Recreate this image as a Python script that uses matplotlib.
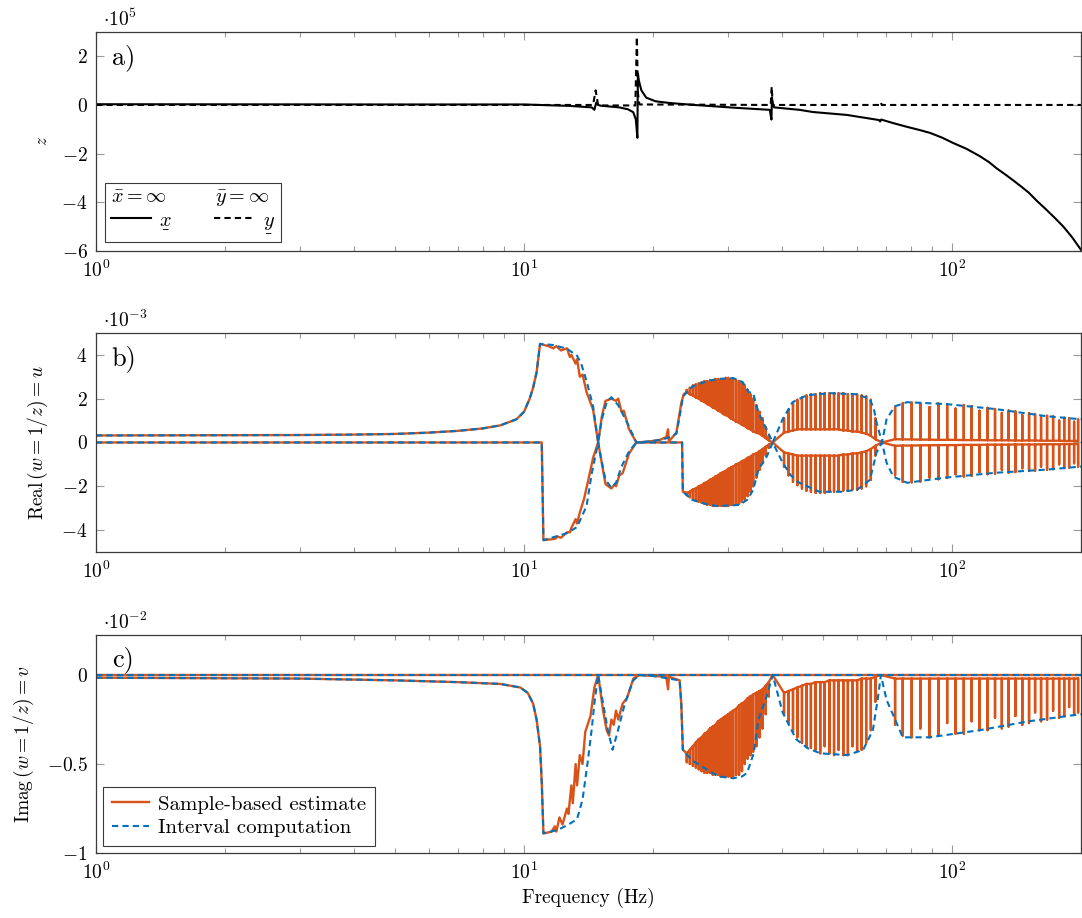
import numpy as np
import matplotlib
matplotlib.use('Agg')
import matplotlib.pyplot as plt
from matplotlib.ticker import FuncFormatter, FixedLocator, LogLocator, NullFormatter
from matplotlib.lines import Line2D

plt.rcParams['font.family'] = 'serif'
plt.rcParams['font.serif'] = ['cmr10']
plt.rcParams['mathtext.fontset'] = 'cm'
plt.rcParams['axes.formatter.use_mathtext'] = True

ORANGE = '#D95319'
BLUE = '#0072BD'

# ---------------- panel a (units of 1e5) ----------------
a_x_f = [1, 5, 10, 12.8, 14.4, 14.6, 14.75, 14.9, 15.1, 16.7, 17.5, 18.0, 18.25, 18.4, 18.45,
         18.55, 18.8, 19.3, 20.3, 21.9, 25, 31.4, 37.5, 37.85, 37.95, 38.1, 38.4, 44, 47.3,
         56.8, 67.5, 67.9, 68.3, 73, 78.5, 84, 88.9, 95, 100.5, 108, 116, 122, 127, 133, 139,
         145, 151, 158, 166, 174, 182, 191, 200]
a_x_v = [0.03, 0.02, 0.02, -0.04, -0.1, -0.2, 0.1, 0.0, -0.03, -0.1, -0.18, -0.3, -0.6, -1.35, 1.3,
         1.0, 0.6, 0.3, 0.15, 0.08, 0.0, -0.12, -0.2, -0.6, 0.3, 0.05, -0.1, -0.2, -0.29,
         -0.41, -0.62, -0.68, -0.6, -0.75, -0.9, -1.03, -1.15, -1.35, -1.56, -1.8, -2.1, -2.35,
         -2.6, -2.85, -3.1, -3.35, -3.6, -3.95, -4.3, -4.65, -5.0, -5.45, -5.95]
a_y_f = [1, 14.5, 14.7, 14.9, 18.2, 18.35, 18.45, 18.6, 37.7, 37.9, 38.1, 67.9, 68.2, 68.5, 200]
a_y_v = [0, 0, 0.6, -0.02, -0.02, 2.8, 0.5, 0.02, 0.0, 0.75, 0.0, 0.0, 0.1, 0.0, 0.0]

# ---------------- spike frequencies (shared by b and c) ----------------
fa = [24.0, 24.4, 24.8, 25.2, 25.6, 26.0, 26.4, 26.8, 27.2, 27.6, 28.0, 28.4, 28.8, 29.2, 29.6,
      30.0, 30.4, 30.8, 31.3, 31.8, 32.3, 32.8, 33.3, 33.8, 34.3, 34.9, 35.5, 36.1, 36.7, 37.3]
fb = [40.5, 41.5, 42.5, 43.5, 44.6, 45.7, 46.8, 48.0, 49.2, 50.4, 51.7, 53.0, 54.3, 55.7, 57.1,
      58.5, 60.0, 61.5, 63.0, 64.6, 66.2]
fc = [73.6, 76.7, 80.5, 84.3, 88.6, 92.9, 97.4, 101.9, 106.5, 111.1, 115.9, 121.0, 126.0, 130.7,
      135.5, 140.6, 145.9, 151.3, 156.3, 161.4, 166.7, 172.2, 177.9, 182.8, 187.7, 192.8, 197.0]

# ---------------- panel b (units of 1e-3) ----------------
# interval computation (blue)
b_blue_up_f = [1, 2, 3, 4, 5, 6, 7, 8, 8.8, 9.6, 10.0, 10.3, 10.5, 10.7, 10.9, 11.7, 12.6, 13.3,
               13.6, 14.0, 14.5, 14.9, 15.2, 15.6, 16.0, 16.6, 17.4, 18.3, 19.7, 20.8, 21.6, 22.7,
               23.3, 23.5, 24.8, 26.7, 28.5, 30.8, 32.4, 33.5, 34.3, 35.0, 36.0, 36.9, 38.1, 40.2,
               42.4, 45.8, 51.9, 60, 64.3, 65.7, 66.6, 68.6, 70.3, 73.5, 78.5, 97.4, 127, 166, 200]
b_blue_up_v = [0.32, 0.33, 0.34, 0.36, 0.39, 0.45, 0.53, 0.64, 0.78, 1.06, 1.4, 1.98, 2.5, 3.2,
               4.5, 4.45, 4.28, 3.96, 3.6, 2.8, 1.65, 0, 1.06, 1.84, 2.07, 1.7, 0.92, 0, 0.05,
               0.12, 0.2, 0.4, 1.6, 2.1, 2.57, 2.8, 2.9, 2.94, 2.76, 2.3, 2.25, 1.6, 1.0, 0.6, 0,
               1.06, 1.84, 2.16, 2.25, 2.2, 1.98, 1.5, 0.92, 0, 1.06, 1.65, 1.84, 1.75, 1.52,
               1.2, 1.06]
b_blue_lo_f = [1, 11.0, 11.1, 12.6, 13.3, 14.0, 14.4, 14.9, 15.2, 15.5, 16.0, 16.4, 16.9, 17.6,
               18.3, 23.4, 23.5, 24.7, 26.5, 28.2, 31.9, 33.3, 34.3, 35.3, 36.9, 38.1, 40.2, 42.0,
               44, 49, 55, 60, 64.3, 66.6, 68.6, 70.3, 72.9, 78.5, 97, 127, 166, 200]
b_blue_lo_v = [0, 0, -4.46, -4.14, -3.86, -2.9, -1.4, 0, -0.9, -1.7, -2.07, -1.84, -1.1, -0.4,
               0, 0, -2.25, -2.62, -2.8, -2.9, -2.85, -2.6, -2.16, -1.24, -0.64, 0, -0.92, -1.5,
               -1.84, -2.25, -2.25, -2.16, -1.7, -0.46, 0, -0.92, -1.56, -1.84, -1.6, -1.38,
               -1.24, -1.1]

# sample-based estimate (orange), smooth part up to the first spike band
b_or_up_f = [1, 2, 3, 4, 5, 6, 7, 8, 8.8, 9.6, 10.0, 10.3, 10.5, 10.7, 10.9, 11.4, 11.7, 11.9,
             12.2, 12.6, 12.8, 12.9, 13.2, 13.3, 13.5, 13.7, 14.0, 14.5, 14.9, 15.2, 15.5, 16.0,
             16.4, 16.6, 16.9, 17.1, 17.6, 18.3, 19.7, 20.8, 21.5, 21.7, 21.8, 22.7, 23.3, 23.6]
b_or_up_v = [0.32, 0.33, 0.34, 0.36, 0.39, 0.45, 0.53, 0.64, 0.78, 1.06, 1.4, 1.98, 2.5, 3.2,
             4.5, 4.4, 4.3, 4.4, 4.2, 4.3, 3.9, 4.0, 3.6, 3.8, 3.0, 3.1, 2.3, 1.5, 0, 1.2, 1.9,
             2.0, 1.9, 2.0, 1.4, 1.45, 0.6, 0, 0.05, 0.12, 0.25, 0.6, 0.05, 0.45, 1.8, 2.2]
b_or_lo_f = [1, 11.0, 11.1, 11.8, 12.0, 12.2, 12.6, 12.8, 12.9, 13.2, 13.3, 13.5, 13.8, 14.1,
             14.5, 14.9, 15.5, 16.0, 16.3, 16.4, 16.7, 17.0, 17.6, 18.3, 23.4, 23.5]
b_or_lo_v = [0, 0, -4.46, -4.4, -4.3, -4.35, -4.1, -4.1, -3.9, -3.5, -3.7, -3.2, -2.6, -1.8,
             -0.7, 0, -1.9, -2.1, -1.9, -2.0, -1.5, -1.4, -0.5, 0, 0, -2.25]
b_zero_f = [38.1, 68.6]

a_base_u = [2.3, 2.2, 2.15, 2.05, 2.0, 1.9, 1.85, 1.75, 1.7, 1.6, 1.55, 1.45, 1.4, 1.3, 1.25,
            1.2, 1.1, 1.05, 0.95, 0.9, 0.8, 0.75, 0.65, 0.6, 0.5, 0.45, 0.4, 0.3, 0.2, 0.1]
a_tip_u = [2.4, 2.5, 2.6, 2.65, 2.7, 2.75, 2.8, 2.8, 2.85, 2.85, 2.9, 2.9, 2.9, 2.9, 2.95,
           2.95, 2.9, 2.9, 2.85, 2.8, 2.75, 2.6, 2.4, 2.2, 2.0, 1.7, 1.4, 1.1, 0.7, 0.3]
a_base_l = [-2.3, -2.25, -2.15, -2.1, -2.0, -1.95, -1.85, -1.8, -1.7, -1.65, -1.55, -1.5, -1.4,
            -1.35, -1.3, -1.2, -1.15, -1.1, -1.0, -0.95, -0.85, -0.8, -0.7, -0.65, -0.55, -0.5,
            -0.4, -0.3, -0.2, -0.1]
a_tip_l = [-2.4, -2.5, -2.6, -2.65, -2.7, -2.75, -2.8, -2.85, -2.85, -2.9, -2.9, -2.9, -2.9,
           -2.9, -2.9, -2.9, -2.85, -2.85, -2.85, -2.8, -2.7, -2.6, -2.45, -2.25, -2.0, -1.6,
           -1.25, -0.95, -0.6, -0.25]
b_tip_u = [1.1, 1.5, 1.8, 1.95, 2.05, 2.15, 2.2, 2.2, 2.25, 2.25, 2.25, 2.25, 2.25, 2.25, 2.2,
           2.2, 2.2, 2.15, 2.1, 1.95, 1.1]
b_base_u = [0.45, 0.5, 0.55, 0.6, 0.6, 0.6, 0.6, 0.6, 0.6, 0.6, 0.6, 0.6, 0.6, 0.55, 0.55, 0.5,
            0.5, 0.45, 0.4, 0.3, 0.15]
b_tip_l = [-1.1, -1.5, -1.8, -1.95, -2.1, -2.2, -2.25, -2.3, -2.3, -2.3, -2.25, -2.25, -2.2,
           -2.2, -2.2, -2.15, -2.15, -2.1, -2.0, -1.7, -0.6]
b_base_l = [-0.45, -0.5, -0.55, -0.6, -0.6, -0.6, -0.6, -0.6, -0.6, -0.6, -0.6, -0.6, -0.6,
            -0.55, -0.55, -0.5, -0.5, -0.45, -0.4, -0.3, -0.15]
c_tip_u = [1.6, 1.8, 1.82, 1.8, 1.62, 1.78, 1.75, 1.55, 1.7, 1.66, 1.45, 1.58, 1.53, 1.35, 1.46,
           1.42, 1.25, 1.34, 1.3, 1.15, 1.22, 1.19, 1.0, 1.13, 1.1, 0.95, 1.05]
c_base_u = [0.15, 0.14, 0.14, 0.13, 0.13, 0.12, 0.12, 0.12, 0.11, 0.11, 0.11, 0.1, 0.1, 0.1,
            0.1, 0.09, 0.09, 0.09, 0.09, 0.08, 0.08, 0.08, 0.08, 0.07, 0.07, 0.07, 0.07]
c_tip_l = [-1.5, -1.8, -1.82, -1.78, -1.6, -1.68, -1.62, -1.45, -1.56, -1.52, -1.35, -1.45,
           -1.42, -1.25, -1.38, -1.35, -1.18, -1.3, -1.28, -1.1, -1.24, -1.22, -1.0, -1.17,
           -1.14, -0.95, -1.1]
c_base_l = [-0.15, -0.14, -0.14, -0.13, -0.13, -0.12, -0.12, -0.12, -0.11, -0.11, -0.11, -0.1,
            -0.1, -0.1, -0.1, -0.09, -0.09, -0.09, -0.09, -0.08, -0.08, -0.08, -0.08, -0.07,
            -0.07, -0.07, -0.07]

# ---------------- panel c (units of 1e-2) ----------------
c_up_f = [1, 200]
c_up_v = [0, 0]
c_blue_lo_f = [1, 3, 5, 7, 8.8, 9.8, 10.2, 10.5, 10.7, 10.9, 11.0, 11.1, 12.0, 12.7, 13.3, 13.7,
               14.1, 14.4, 14.6, 14.9, 15.3, 15.7, 16.1, 16.5, 17.2, 18.0, 18.6, 20, 23.1, 23.3,
               23.5, 24.7, 26.7, 28.5, 30.8, 32.3, 33.2, 34.4, 35.3, 36.9, 38.1, 40.2, 43.2,
               45.9, 49.2, 56.9, 62.0, 65.3, 67.0, 68.2, 70.3, 73, 76.7, 88.6, 116, 151, 200]
c_blue_lo_v = [-0.015, -0.02, -0.03, -0.04, -0.05, -0.07, -0.1, -0.16, -0.25, -0.4, -0.6, -0.89,
               -0.87, -0.84, -0.81, -0.7, -0.48, -0.3, -0.16, 0, -0.16, -0.31, -0.42, -0.33,
               -0.16, -0.03, 0, -0.005, -0.03, -0.16, -0.42, -0.48, -0.53, -0.57, -0.58, -0.57,
               -0.55, -0.44, -0.25, -0.12, 0, -0.21, -0.36, -0.41, -0.44, -0.45, -0.42, -0.31,
               -0.14, 0, -0.14, -0.23, -0.35, -0.35, -0.31, -0.26, -0.22]
c_or_lo_f = [1, 3, 5, 7, 8.8, 9.8, 10.2, 10.5, 10.7, 10.9, 11.0, 11.1, 11.6, 11.8, 11.9, 12.1,
             12.3, 12.6, 12.7, 12.9, 13.0, 13.2, 13.3, 13.5, 13.7, 13.9, 14.3, 14.6, 14.9, 15.3,
             15.6, 15.8, 16.0, 16.2, 16.4, 16.6, 17.0, 17.4, 18.0, 18.6, 21.5, 21.7, 21.8, 23.1,
             23.3, 23.5]
c_or_lo_v = [-0.015, -0.02, -0.03, -0.04, -0.05, -0.07, -0.1, -0.16, -0.25, -0.4, -0.6, -0.89,
             -0.88, -0.85, -0.88, -0.8, -0.84, -0.75, -0.78, -0.62, -0.72, -0.5, -0.62, -0.45,
             -0.5, -0.32, -0.23, -0.07, 0, -0.2, -0.31, -0.34, -0.25, -0.28, -0.2, -0.25, -0.16,
             -0.13, -0.02, 0, -0.01, -0.08, -0.01, -0.03, -0.16, -0.42]
c_zero_f = [38.1, 68.2]
ca_top = [-0.44, -0.42, -0.4, -0.38, -0.36, -0.35, -0.33, -0.32, -0.3, -0.29, -0.28, -0.26,
          -0.25, -0.24, -0.23, -0.22, -0.21, -0.2, -0.19, -0.17, -0.16, -0.15, -0.13, -0.12,
          -0.11, -0.1, -0.09, -0.08, -0.06, -0.04]
ca_bot = [-0.49, -0.5, -0.51, -0.52, -0.53, -0.54, -0.55, -0.55, -0.55, -0.56, -0.56, -0.56,
          -0.57, -0.57, -0.57, -0.57, -0.57, -0.57, -0.56, -0.56, -0.54, -0.5, -0.47, -0.45,
          -0.43, -0.4, -0.35, -0.3, -0.22, -0.12]
cb_top = [-0.1, -0.09, -0.08, -0.07, -0.06, -0.05, -0.05, -0.04, -0.04, -0.04, -0.03, -0.03,
          -0.03, -0.03, -0.03, -0.03, -0.03, -0.02, -0.02, -0.02, -0.01]
cb_bot = [-0.22, -0.27, -0.32, -0.35, -0.38, -0.4, -0.41, -0.42, -0.44, -0.4, -0.44, -0.45,
          -0.42, -0.45, -0.45, -0.4, -0.43, -0.42, -0.38, -0.31, -0.15]
cc_top = [-0.02, -0.02, -0.02, -0.02, -0.02, -0.02, -0.02, -0.02, -0.02, -0.02, -0.02, -0.02,
          -0.02, -0.02, -0.02, -0.02, -0.02, -0.02, -0.02, -0.02, -0.02, -0.02, -0.02, -0.02,
          -0.02, -0.02, -0.02]
cc_bot = [-0.28, -0.34, -0.35, -0.3, -0.35, -0.34, -0.27, -0.33, -0.33, -0.26, -0.31, -0.31,
          -0.24, -0.3, -0.29, -0.23, -0.28, -0.27, -0.21, -0.26, -0.25, -0.2, -0.24, -0.23,
          -0.18, -0.22, -0.21]


def comb(f, base, tip):
    # each resonance drawn as a vertical stroke from the base out to the tip and back
    return np.repeat(f, 3), np.column_stack([base, tip, base]).ravel()


def chain(smooth_f, smooth_v, zeros, bands):
    xs, ys = [np.asarray(smooth_f)], [np.asarray(smooth_v, dtype=float)]
    for i, (f, base, tip) in enumerate(bands):
        sx, sy = comb(f, base, tip)
        xs.append(sx)
        ys.append(sy)
        if i < len(zeros):
            xs.append(np.array([zeros[i]]))
            ys.append(np.array([0.0]))
    return np.concatenate(xs), np.concatenate(ys)


def style(ax, ylim, yticks, mult, label, letter, lab_size=14):
    ax.set_xscale('log')
    ax.set_xlim(1, 200)
    ax.set_ylim(*ylim)
    ax.xaxis.set_major_locator(FixedLocator([1, 10, 100]))
    ax.xaxis.set_major_formatter(FuncFormatter(lambda v, p: r'$10^{%d}$' % round(np.log10(v))))
    ax.xaxis.set_minor_locator(LogLocator(base=10, subs=np.arange(2, 10)))
    ax.xaxis.set_minor_formatter(NullFormatter())
    ax.yaxis.set_major_locator(FixedLocator(yticks))
    ax.yaxis.set_major_formatter(FuncFormatter(lambda v, p: r'$%g$' % v))
    ax.tick_params(which='both', direction='in', top=True, right=True, color='#9a9a9a',
                   labelsize=14, width=0.8)
    ax.tick_params(which='major', length=6, pad=6)
    ax.tick_params(which='minor', length=3.5)
    for s in ax.spines.values():
        s.set_color('#3a3a3a')
        s.set_linewidth(0.9)
    ax.text(0.007, 1.01, r'$\cdot 10^{%s}$' % mult, transform=ax.transAxes, ha='left',
            va='bottom', fontsize=14)
    ax.text(0.016, 0.885, letter, transform=ax.transAxes, ha='left', va='center', fontsize=19)
    ax.set_ylabel(label, fontsize=lab_size, labelpad=8)


fig = plt.figure(figsize=(10.82, 9.18), dpi=100)
ax1 = fig.add_axes([0.0887, 0.7266, 0.9103, 0.2386])
ax2 = fig.add_axes([0.0887, 0.3987, 0.9103, 0.2386])
ax3 = fig.add_axes([0.0887, 0.0708, 0.9103, 0.2375])

lw = 1.5
olw = 1.7
dash = (3, 2)
xlow = r'$\underset{\_}{x}$'
ylow = r'$\underset{\_}{y}$'

# ---- a)
ax1.plot(a_x_f, a_x_v, color='k', lw=lw)
ax1.plot(a_y_f, a_y_v, color='k', lw=lw, dashes=dash)
style(ax1, (-6, 3), [-6, -4, -2, 0, 2], '5', r'$z$', 'a)', lab_size=12)
h1 = [Line2D([], [], color='k', lw=lw), Line2D([], [], color='k', lw=lw, dashes=dash)]
leg1 = ax1.legend(h1, [xlow, ylow], ncol=2, loc='lower left',
                  title=r'$\bar{x} = \infty \qquad\;\;\; \bar{y} = \infty$', title_fontsize=14.5,
                  fontsize=14.5, alignment='left', frameon=True, fancybox=False, framealpha=1,
                  edgecolor='#3a3a3a', borderaxespad=0.45, handlelength=2.0, handletextpad=0.4,
                  columnspacing=2.1, borderpad=0.3, labelspacing=0.1)
leg1.get_frame().set_linewidth(0.8)

# ---- b)
xu, yu = chain(b_or_up_f, b_or_up_v, b_zero_f,
               [(fa, a_base_u, a_tip_u), (fb, b_base_u, b_tip_u), (fc, c_base_u, c_tip_u)])
xl, yl = chain(b_or_lo_f, b_or_lo_v, b_zero_f,
               [(fa, a_base_l, a_tip_l), (fb, b_base_l, b_tip_l), (fc, c_base_l, c_tip_l)])
ax2.plot(xu, yu, color=ORANGE, lw=olw)
ax2.plot(xl, yl, color=ORANGE, lw=olw)
ax2.plot(b_blue_up_f, b_blue_up_v, color=BLUE, lw=lw, dashes=dash)
ax2.plot(b_blue_lo_f, b_blue_lo_v, color=BLUE, lw=lw, dashes=dash)
style(ax2, (-5, 5), [-4, -2, 0, 2, 4], '-3', r'$\mathrm{Real}\,(w = 1/z) = u$', 'b)')

# ---- c)
xc, yc = chain(c_or_lo_f, c_or_lo_v, c_zero_f,
               [(fa, ca_top, ca_bot), (fb, cb_top, cb_bot), (fc, cc_top, cc_bot)])
ax3.plot(c_up_f, c_up_v, color=ORANGE, lw=olw)
ax3.plot(xc, yc, color=ORANGE, lw=olw)
ax3.plot(c_up_f, c_up_v, color=BLUE, lw=lw, dashes=dash)
ax3.plot(c_blue_lo_f, c_blue_lo_v, color=BLUE, lw=lw, dashes=dash)
style(ax3, (-1, 0.225), [-1, -0.5, 0], '-2', r'$\mathrm{Imag}\,(w = 1/z) = v$', 'c)')
ax3.set_xlabel('Frequency (Hz)', fontsize=14, labelpad=4)
h3 = [Line2D([], [], color=ORANGE, lw=olw), Line2D([], [], color=BLUE, lw=lw, dashes=dash)]
leg3 = ax3.legend(h3, ['Sample-based estimate', 'Interval computation'], loc='lower left',
                  fontsize=15, frameon=True, fancybox=False, framealpha=1, edgecolor='#3a3a3a',
                  borderaxespad=0.35, handlelength=1.8, handletextpad=0.45, borderpad=0.4,
                  labelspacing=0.25)
leg3.get_frame().set_linewidth(0.8)

fig.savefig('out.png', dpi=100)
